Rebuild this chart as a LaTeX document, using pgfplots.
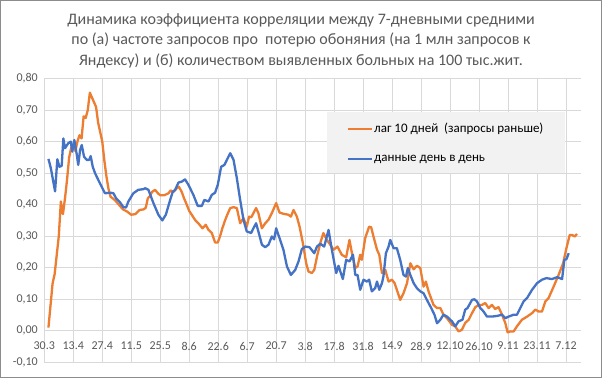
\documentclass[border=0pt]{standalone}
\usepackage{pgfplots}
\pgfplotsset{compat=1.18}
\usepackage{fontspec}
\setmainfont{Carlito}
\definecolor{sorange}{HTML}{ED7D31}
\definecolor{sblue}{HTML}{4472C4}
\definecolor{gridgray}{HTML}{D9D9D9}
\definecolor{txtgray}{HTML}{595959}
\definecolor{legendgray}{HTML}{F2F2F2}
\definecolor{bordergray}{HTML}{8C8C8C}
\begin{document}
\begin{tikzpicture}[x=1bp,y=1bp]
\fill[white] (0,0) rectangle (602,378);
\useasboundingbox (0,0) rectangle (602,378);
\begin{axis}[
  at={(44.3bp,15.7bp)}, anchor=south west,
  scale only axis, width=536.2bp, height=283.8bp,
  xmin=0, xmax=259, ymin=-0.1, ymax=0.8,
  axis line style={draw=none},
  tick style={draw=none}, major tick length=0pt,
  xtick={0,14,28,42,56,70,84,98,112,126,140,154,168,182,196,210,224,238,252},
  xticklabels={30.3,13.4,27.4,11.5,25.5,8.6,22.6,6.7,20.7,3.8,17.8,31.8,14.9,28.9,12.10,26.10,9.11,23.11,7.12},
  ytick={-0.1,0,0.1,0.2,0.3,0.4,0.5,0.6,0.7,0.8},
  yticklabels={{-0,10},{0,00},{0,10},{0,20},{0,30},{0,40},{0,50},{0,60},{0,70},{0,80}},
  grid=major,
  major grid style={draw=gridgray, line width=0.9bp},
  tick label style={font=\fontsize{12bp}{14bp}\selectfont, text=txtgray},
  xticklabel style={anchor=center, yshift=16.3bp},
  yticklabel style={anchor=east, xshift=-3bp},
  legend cell align=left,
  legend style={at={(0.563,0.850)}, anchor=north west, draw=none, fill=none,
    font=\fontsize{13bp}{15bp}\selectfont, text=black, row sep=16.5bp,
    inner sep=0pt, nodes={inner xsep=1.5bp}},
  legend image code/.code={\draw[#1, line width=2.3bp] (0bp,0bp) -- (24bp,0bp);},
]
\addplot[sorange, line width=2.3bp, line join=round] coordinates {
(2,0.01) (3,0.08) (4,0.15) (5,0.18) (6,0.24) (7,0.30) (8,0.41) (9,0.37) (10,0.42)
(11,0.48) (12,0.55) (13,0.58) (14,0.59) (15,0.57) (16,0.60) (17,0.62) (18,0.61)
(19,0.68) (20,0.675) (21,0.70) (22,0.755) (23,0.74) (24,0.725) (25,0.71) (26,0.66)
(27,0.63) (28,0.60) (29,0.54) (30,0.49) (31,0.45) (32,0.425) (34,0.415) (36,0.40)
(38,0.385) (40,0.378) (42,0.368) (44,0.37) (46,0.383) (48,0.385) (49,0.39) (50,0.42)
(51,0.427) (52,0.44) (53.5,0.447) (55,0.435) (56,0.43) (58,0.43) (60,0.436) (61,0.445)
(62.3,0.44) (64,0.452) (65,0.457) (66.4,0.44) (67.5,0.42) (68.8,0.40) (70,0.38)
(71.2,0.368) (73,0.35) (74.4,0.341) (76.4,0.325) (78,0.336) (79.3,0.32) (80.9,0.31)
(82.5,0.28) (83.8,0.28) (84.9,0.30) (86,0.325) (87.3,0.35) (88.5,0.37) (89.8,0.389)
(91.4,0.392) (93,0.389) (94.6,0.341) (96.2,0.357) (97.8,0.33) (98.9,0.362) (100,0.36)
(101,0.373) (102.3,0.389) (103.4,0.373) (105.1,0.325) (106.7,0.341) (108.3,0.352)
(109.9,0.373) (112,0.405) (113.6,0.375) (115.5,0.371) (117.9,0.368) (119.1,0.362)
(120.4,0.383) (122,0.362) (123.3,0.33) (124.9,0.278) (126.5,0.214) (127.6,0.188)
(129.2,0.183) (130.4,0.193) (131.7,0.235) (133.3,0.278) (134.8,0.31) (136.5,0.288)
(138.1,0.273) (139.7,0.257) (141.6,0.267) (143.7,0.241) (145.8,0.233) (147.4,0.288)
(148.6,0.246) (150.2,0.199) (151.3,0.204) (152.6,0.241) (153.4,0.225) (155,0.294)
(156.9,0.33) (157.9,0.328) (159,0.299) (160.7,0.257) (161.8,0.241) (163.1,0.183)
(164.7,0.193) (166.3,0.156) (167.9,0.162) (169.2,0.151) (170.3,0.13) (171.9,0.098)
(173.5,0.119) (175.2,0.151) (176.8,0.214) (178.4,0.195) (180,0.206) (181.6,0.199)
(183.2,0.14) (184.3,0.156) (185.6,0.125) (188,0.082) (189.7,0.072) (191.3,0.072)
(192.8,0.051) (194.5,0.04) (196.9,0.019) (198.5,0.014) (200.1,-0.002) (201.7,0.003)
(203.3,0.025) (205,0.035) (206.6,0.056) (208.2,0.075) (209.8,0.082) (211.4,0.082)
(213,0.088) (214.6,0.072) (216.2,0.082) (217.8,0.069) (219.4,0.075) (221.1,0.051)
(222.7,0.024) (223.8,-0.005) (225.1,-0.002) (226.7,-0.002) (228.3,0.014) (230.7,0.035)
(233.2,0.045) (235.6,0.056) (237.2,0.067) (238.8,0.061) (240.4,0.061) (242,0.093)
(243.6,0.104) (246,0.14) (248.4,0.177) (250.6,0.214) (252.2,0.262) (253.8,0.304)
(254.9,0.304) (256.2,0.299) (257.3,0.307)
};
\addlegendentry{лаг 10 дней\ \ (запросы раньше)}
\addplot[sblue, line width=2.3bp, line join=round] coordinates {
(2,0.545) (3,0.52) (3.6,0.50) (5.2,0.442) (6.3,0.544) (7.3,0.52) (8.4,0.523) (9.2,0.61)
(10,0.579) (11.6,0.595) (12.8,0.60) (13.5,0.568) (14.5,0.605) (15.7,0.558) (16.4,0.526)
(17.3,0.574) (18.1,0.589) (19.2,0.552) (20.5,0.542) (21.7,0.542) (22.4,0.554) (23.4,0.52)
(24.5,0.50) (26.1,0.478) (27.7,0.457) (29.3,0.436) (31.8,0.438) (33.4,0.436) (34.7,0.42)
(36.6,0.407) (38.2,0.392) (39.5,0.391) (40.6,0.41) (43,0.436) (45.4,0.447) (47.8,0.449)
(48.7,0.452) (50.3,0.447) (52.7,0.405) (55.1,0.368) (57,0.35) (58.7,0.368) (60.8,0.415)
(62,0.44) (63.2,0.447) (64.8,0.47) (66.4,0.473) (68,0.48) (69.6,0.463) (72,0.431)
(74.1,0.396) (76.1,0.396) (77.3,0.415) (79.3,0.41) (80.9,0.431) (82.5,0.438) (83.8,0.463)
(85.4,0.52) (87,0.526) (88.2,0.542) (89.8,0.563) (91.4,0.542) (93,0.484) (94.6,0.415)
(96.2,0.352) (97.8,0.315) (99.9,0.31) (101,0.325) (102.3,0.341) (103.4,0.315)
(105.1,0.273) (106.7,0.265) (108.3,0.273) (109.9,0.299) (111,0.29) (112,0.325)
(113.6,0.294) (115.5,0.257) (117.2,0.204) (119.1,0.177) (121.2,0.193) (122.8,0.22)
(124.4,0.259) (126,0.267) (128.1,0.265) (130.4,0.246) (131.7,0.267) (133.3,0.276)
(135.2,0.267) (137.3,0.32) (138.9,0.257) (141,0.183) (142.1,0.206) (144.2,0.164)
(145.8,0.225) (147.4,0.22) (149.1,0.241) (150.2,0.177) (151.3,0.177) (152.6,0.13)
(154.2,0.162) (155.8,0.156) (156.9,0.162) (158.2,0.125) (159.8,0.135) (160.7,0.156)
(161.8,0.13) (163.1,0.151) (163.8,0.172) (165,0.246) (166.3,0.267) (167.1,0.288)
(168.7,0.262) (170.3,0.262) (171.9,0.225) (173.5,0.177) (174.7,0.172) (175.6,0.199)
(176.8,0.177) (178.4,0.151) (180,0.135) (181.6,0.125) (183.2,0.119) (184.8,0.098)
(186.9,0.072) (188.5,0.05) (189.7,0.024) (191.3,0.035) (192.8,0.051) (194.5,0.045)
(196.9,0.03) (198.5,0.014) (200.1,0.03) (202,0.035) (203.3,0.067) (204.4,0.072)
(206.6,0.098) (207.7,0.1) (209,0.093) (210.6,0.072) (212.2,0.061) (213.8,0.045)
(216.2,0.045) (218.7,0.047) (221.1,0.051) (222.7,0.04) (224.3,0.045) (226.7,0.051)
(228.3,0.051) (229.9,0.072) (231.5,0.093) (233.2,0.104) (235.6,0.13) (238,0.151)
(240.4,0.162) (242.5,0.167) (245.2,0.164) (247.7,0.17) (250.1,0.164) (251.2,0.225)
(252.2,0.227) (253.3,0.246)
};
\addlegendentry{данные день в день}
\fill[legendgray] (rel axis cs:0.528,0.668) rectangle (rel axis cs:0.971,0.881);
\end{axis}
\node[anchor=base, text=txtgray, font=\fontsize{16bp}{19bp}\selectfont] at (301,354) {Динамика коэффициента корреляции между 7-дневными средними};
\node[anchor=base, text=txtgray, font=\fontsize{16bp}{19bp}\selectfont] at (301,333.5) {по (а) частоте запросов про\ \ потерю обоняния (на 1 млн запросов к};
\node[anchor=base, text=txtgray, font=\fontsize{16bp}{19bp}\selectfont] at (301,313) {Яндексу) и (б) количеством выявленных больных на 100 тыс.жит.};
\draw[bordergray, line width=1.3bp] (0.65,0.65) rectangle (601.35,377.35);
\end{tikzpicture}
\end{document}
